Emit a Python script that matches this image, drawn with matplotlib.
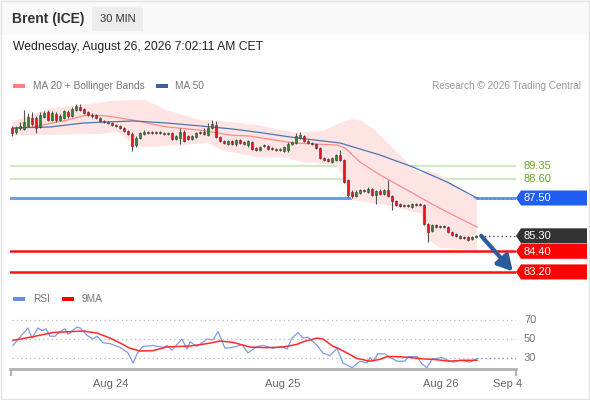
import numpy as np
import matplotlib
matplotlib.use("Agg")
import matplotlib.pyplot as plt
from matplotlib.patches import Polygon, Rectangle

plt.rcParams['font.family'] = ['Liberation Sans', 'DejaVu Sans']

# 30 min candles, oldest first
opens = [91.57, 91.34, 91.57, 91.51, 91.68, 92.15, 92.15, 91.62, 92.21, 92.50,
         92.03, 92.38, 92.03, 92.15, 92.50, 92.27, 92.62, 92.79, 92.68, 92.50,
         92.33, 92.33, 92.15, 91.97, 91.92, 91.86, 91.74, 91.68, 91.57, 91.39,
         91.22, 90.58, 90.99, 91.22, 91.34, 91.34, 91.28, 91.34, 91.28, 91.22,
         91.28, 90.93, 90.99, 91.34, 91.10, 90.93, 91.05, 91.28, 91.34, 91.16,
         91.57, 91.74, 91.05, 90.82, 90.64, 90.82, 90.64, 90.87, 90.64, 90.58,
         90.76, 90.41, 90.29, 90.52, 90.52, 90.41, 90.35, 90.29, 90.23, 90.29,
         90.64, 90.70, 90.99, 91.10, 90.82, 90.70, 90.64, 90.41, 89.83, 89.77,
         89.60, 89.71, 90.00, 89.71, 88.55, 87.85, 87.62, 87.79, 87.97, 87.85,
         88.03, 87.67, 87.91, 87.74, 87.97, 87.62, 87.33, 87.15, 87.03, 87.09,
         86.97, 87.15, 87.15, 87.09, 85.99, 85.58, 85.93, 85.81, 85.87, 85.81,
         85.52, 85.41, 85.29, 85.23, 85.23, 85.12, 85.23]
closes = [91.28, 91.57, 91.68, 91.92, 92.21, 91.80, 91.57, 92.33, 92.44, 92.03,
          92.44, 92.03, 92.27, 92.56, 92.27, 92.68, 92.85, 92.62, 92.44, 92.33,
          92.27, 92.15, 91.97, 91.92, 91.86, 91.74, 91.68, 91.57, 91.39, 91.22,
          90.52, 90.99, 91.28, 91.34, 91.28, 91.28, 91.34, 91.28, 91.22, 91.28,
          90.93, 91.10, 91.34, 90.82, 90.93, 91.10, 91.28, 91.34, 91.22, 91.57,
          91.80, 91.05, 90.82, 90.70, 90.82, 90.64, 90.87, 90.70, 90.76, 90.82,
          90.35, 90.29, 90.47, 90.58, 90.35, 90.35, 90.29, 90.35, 90.47, 90.64,
          90.76, 91.10, 91.16, 90.82, 90.70, 90.64, 90.41, 89.83, 89.71, 89.65,
          89.83, 90.00, 89.71, 88.43, 87.67, 87.62, 87.85, 87.97, 87.91, 88.03,
          87.67, 87.91, 87.74, 87.97, 87.62, 87.33, 87.09, 87.03, 87.09, 87.03,
          87.15, 87.09, 87.09, 85.99, 85.52, 85.93, 85.81, 85.87, 85.81, 85.52,
          85.35, 85.29, 85.17, 85.17, 85.06, 85.23, 85.30]
highs = [91.68, 91.68, 91.92, 92.62, 92.44, 92.50, 92.27, 92.50, 92.56, 92.62,
         92.56, 92.50, 92.38, 92.62, 92.62, 92.79, 92.97, 92.97, 92.73, 92.56,
         92.44, 92.38, 92.21, 92.03, 91.97, 91.92, 91.80, 91.74, 91.62, 91.45,
         91.34, 91.10, 91.34, 91.45, 91.39, 91.39, 91.39, 91.39, 91.34, 91.34,
         91.34, 91.16, 91.57, 91.45, 91.16, 91.16, 91.34, 91.39, 91.57, 91.86,
         92.03, 91.97, 91.10, 90.87, 90.87, 90.87, 90.93, 90.93, 90.82, 90.87,
         90.82, 90.47, 90.52, 90.64, 90.58, 90.47, 90.41, 90.41, 90.52, 90.76,
         90.82, 91.28, 91.34, 91.16, 90.87, 90.76, 90.70, 90.47, 89.88, 89.83,
         89.88, 90.06, 90.29, 89.77, 88.60, 87.97, 87.97, 88.03, 88.03, 88.14,
         88.09, 87.97, 88.03, 88.03, 88.55, 87.67, 87.38, 87.21, 87.15, 87.15,
         87.21, 87.21, 87.21, 87.15, 86.05, 85.99, 85.99, 85.93, 85.93, 85.87,
         85.58, 85.46, 85.35, 85.29, 85.29, 85.29, 85.35]
lows = [91.10, 91.22, 91.45, 91.45, 91.62, 91.68, 91.28, 91.57, 92.15, 91.97,
        91.97, 91.92, 91.97, 92.09, 92.15, 92.21, 92.56, 92.56, 92.38, 92.27,
        92.15, 92.09, 91.92, 91.86, 91.80, 91.68, 91.62, 91.51, 91.34, 91.16,
        90.23, 90.47, 90.93, 91.16, 91.22, 91.22, 91.22, 91.22, 91.16, 91.16,
        90.87, 90.87, 90.64, 90.76, 90.87, 90.87, 90.99, 91.22, 91.16, 91.10,
        91.51, 90.99, 90.76, 90.64, 90.58, 90.58, 90.52, 90.64, 90.58, 90.47,
        90.29, 90.23, 90.23, 90.47, 90.29, 90.29, 90.23, 90.23, 90.17, 90.17,
        90.58, 90.64, 90.93, 90.76, 90.64, 90.58, 90.35, 89.77, 89.65, 89.59,
        89.54, 89.65, 89.65, 88.37, 87.56, 87.50, 87.56, 87.73, 87.85, 87.79,
        87.62, 87.15, 87.67, 87.68, 87.56, 86.80, 87.03, 86.97, 86.97, 86.97,
        86.91, 87.03, 87.03, 85.93, 84.94, 85.52, 85.75, 85.75, 85.75, 85.46,
        85.29, 85.23, 85.12, 85.12, 85.00, 85.06, 85.17]

# moving averages and Bollinger bands (candle index, price)
ma20_x = [0.25, 5.25, 13.75, 18.75, 23.75, 30.25, 38.75, 47, 54.5, 59.5, 70.25,
          81.25, 83.25, 87, 92, 98.75, 104.5, 108.75, 112.75, 116.25]
ma20 = [91.57, 91.63, 92.03, 92.33, 92.27, 92.03, 91.63, 91.45, 91.16, 91.10,
        90.70, 90.58, 90.41, 89.59, 88.84, 87.97, 87.21, 86.69, 86.22, 85.81]
ma50_x = [0.25, 9.5, 17.75, 23.75, 30.25, 38.75, 47, 55.25, 62.75, 71.25, 82,
          92, 100.25, 108.75, 116.25]
ma50 = [91.57, 91.63, 91.86, 91.92, 91.98, 91.86, 91.69, 91.51, 91.28, 90.99,
        90.70, 90.00, 89.30, 88.43, 87.50]
bb_up_x = [0, 4.5, 9.5, 17.75, 24.5, 29.5, 33.25, 38.75, 47, 55.25, 62.75, 67,
           72, 78.25, 82, 85, 87.5, 90.75, 94.5, 98.25, 100.75, 102, 104, 107,
           112, 116.25]
bb_up = [91.92, 92.33, 92.73, 92.91, 93.14, 93.20, 93.20, 92.62, 92.03, 91.92,
         91.69, 91.45, 91.28, 91.45, 91.86, 92.09, 91.98, 91.45, 90.58, 89.71,
         89.13, 88.90, 89.13, 88.84, 88.08, 87.38]
bb_lo_x = [0, 5.25, 22, 26.25, 31.25, 34.5, 42.75, 49, 52.5, 60.75, 68.75,
           72.75, 81.25, 82.75, 85, 93.75, 98.75, 102, 104, 107, 116.25]
bb_lo = [91.16, 91.16, 91.22, 91.34, 90.47, 90.47, 90.58, 90.70, 90.29, 89.88,
         89.83, 89.59, 89.42, 88.72, 87.38, 87.09, 86.80, 86.63, 85.06, 84.59,
         84.48]

# RSI panel
rsi_x = [0.25, 2, 4, 5, 6.5, 7.5, 8.5, 9.5, 10.75, 12, 13.25, 14, 16.25, 17,
         18.75, 20.25, 21.25, 22.75, 24.5, 27, 29, 30.25, 31.25, 32.75, 35.25,
         37.75, 38.75, 40, 42.5, 43.75, 44.5, 46.25, 48.75, 50.25, 51.5, 53.25,
         55.25, 57.5, 59, 61.25, 62.75, 65.25, 67.5, 68.75, 70, 71.5, 72.75, 74,
         76.25, 77.75, 79.5, 81.25, 82.75, 85, 87, 88.75, 89.5, 90.25, 91.5,
         93.25, 94.5, 96.25, 98.25, 99, 101.25, 102.5, 103.75, 105, 107.5, 109,
         110.25, 112, 114.5, 116.25]
rsi = [43, 52, 62, 51, 62, 59, 61, 53, 53, 58, 61, 55, 63, 62, 54, 50, 53, 46,
       45, 41, 35, 24, 34, 42, 43, 41, 43, 38, 50, 39, 47, 42, 50, 49, 58, 40,
       41, 44, 35, 42, 43, 40, 42, 39, 51, 57, 51, 52, 43, 35, 32, 40, 24, 19,
       26, 24, 30, 26, 34, 34, 30, 26, 26, 31, 31, 23, 19, 28, 30, 27, 25, 27,
       25, 29]
ma9_x = [0.25, 5.25, 10.25, 17.75, 21.25, 24.5, 27, 29.5, 32, 35.25, 38.75,
         44.5, 48.75, 52, 55.25, 59.5, 63.75, 67.75, 71.25, 72.75, 76.25, 77.75,
         80.25, 81.5, 83.25, 85, 86.25, 89.5, 92, 93.75, 96.25, 99.5, 102.75,
         105.25, 109.5, 112.75, 116.25]
ma9 = [48.5, 52.5, 57, 58.6, 56.5, 51, 45.7, 40, 37, 37.4, 41.4, 42.4, 45,
       47.8, 46.4, 41.3, 40.6, 41.3, 44.2, 47, 51, 50, 42, 40, 36, 32, 29, 26,
       28, 31, 31, 30, 28.5, 28, 26, 27, 27]
rsi_levels = [70, 50, 30]

day_pos = [24.75, 67.75, 107.25, 124]
day_labels = ['Aug 24', 'Aug 25', 'Aug 26', 'Sep 4']

resist = [89.35, 88.60]
pivot = 87.50
last_price = 85.30
supports = [84.40, 83.20]

W, H = 590, 400
fig = plt.figure(figsize=(W / 100, H / 100), dpi=100)
fig.patch.set_facecolor('white')


def box(x0, y0, x1, y1):  # pixel box, top-left origin
    return [x0 / W, 1 - y1 / H, (x1 - x0) / W, (y1 - y0) / H]


XMAX = 126
ax = fig.add_axes(box(10, 95, 516, 285))
ax.set_xlim(-0.5, XMAX)
ax.set_ylim(82.44, 93.49)
ax.axis('off')

band = list(zip(bb_up_x, bb_up)) + list(zip(bb_lo_x[::-1], bb_lo[::-1]))
ax.add_patch(Polygon(band, closed=True, facecolor='#ffe4e4', edgecolor='none', zorder=1))

for r in resist:
    ax.axhline(r, color='#d3e8c4', lw=1.6, zorder=0.5)
ax.axhline(pivot, color='#6d9bf3', lw=2.2, zorder=0.6)
for s in supports:
    ax.axhline(s, color='#ff1010', lw=1.8, zorder=0.6)

ax.plot(ma20_x, ma20, color='#ff8c8c', lw=0.9, zorder=2)
ax.plot(ma50_x, ma50, color='#4f73b0', lw=0.9, zorder=2)
ax.plot([ma50_x[-1], XMAX], [ma50[-1], ma50[-1]], color='#4f73b0', lw=1, ls=(0, (1, 2)), zorder=2)

idx = np.arange(len(closes))
o = np.array(opens)
c = np.array(closes)
up = c >= o
ax.vlines(idx, lows, highs, color='#555555', lw=0.8, zorder=3)
ax.bar(idx, np.maximum(np.abs(c - o), 0.05), bottom=np.minimum(o, c), width=0.7,
       color=np.where(up, '#2f8a35', '#e8141c'), edgecolor='#3a3a3a', linewidth=0.4, zorder=4)

n = len(closes)
ax.plot([n - 1, XMAX], [last_price, last_price], color='#555555', lw=1, ls=(0, (1, 2)), zorder=2)
ax.annotate('', xy=(XMAX - 0.8, supports[-1] + 0.03), xytext=(n + 0.3, closes[-1]),
            arrowprops=dict(arrowstyle='-|>,head_length=0.9,head_width=0.5',
                            color='#2d5a9b', lw=3, shrinkA=0, shrinkB=0), zorder=6)

# RSI
rax = fig.add_axes(box(10, 310, 516, 369))
rax.set_facecolor('none')
rax.set_xlim(-0.5, XMAX)
rax.set_ylim(17.57, 81.35)
for lv in rsi_levels:
    rax.axhline(lv, xmin=0.004, color='#b8b8b8', lw=0.9, ls=(0, (1, 2.5)))
rax.plot(rsi_x, rsi, color='#7d9ce8', lw=0.9)
rax.plot([rsi_x[-1], XMAX], [rsi[-1], rsi[-1]], color='#7d9ce8', lw=1, ls=(0, (1, 2)))
rax.plot(ma9_x, ma9, color='#ff2a2a', lw=1.1)
for s in ['top', 'left', 'right']:
    rax.spines[s].set_visible(False)
rax.spines['bottom'].set_color('#b3b3b3')
rax.spines['bottom'].set_linewidth(2)
rax.set_yticks([])
rax.set_xticks(day_pos, day_labels)
rax.tick_params(axis='x', length=0, pad=7, labelsize=8, labelcolor='#666666')
rax.set_xticks([-0.25, XMAX], minor=True)
rax.tick_params(axis='x', which='minor', length=5, width=1.6, color='#b3b3b3')

# overlay in pixel coordinates
ov = fig.add_axes([0, 0, 1, 1], zorder=10)
ov.set_xlim(0, W)
ov.set_ylim(H, 0)
ov.axis('off')


def ypix(a, v):
    return H - a.transData.transform((0, v))[1]


ov.add_patch(Rectangle((0, 0), W, 35, facecolor='#f9f9f9', edgecolor='none'))
ov.add_patch(Rectangle((0.5, 0.5), W - 1.5, H - 1.5, facecolor='none', edgecolor='#e2e2e2', lw=1))
ov.text(12, 19, 'Brent (ICE)', fontsize=10, fontweight='bold', color='#333333', va='center')
ov.add_patch(Rectangle((92, 7), 51, 24, facecolor='#ececec', edgecolor='none'))
ov.text(117.5, 19.5, '30 MIN', fontsize=8, color='#333333', va='center', ha='center')
ov.text(13, 47, 'Wednesday, August 26, 2026 7:02:11 AM CET', fontsize=8.7, color='#222222', va='center')

ov.add_patch(Rectangle((13, 84), 12, 4, facecolor='#ff7f7f', edgecolor='none'))
ov.text(33, 86, 'MA 20 + Bollinger Bands', fontsize=7.3, color='#777777', va='center')
ov.add_patch(Rectangle((156, 84), 12, 4, facecolor='#3c5f9e', edgecolor='none'))
ov.text(175, 86, 'MA 50', fontsize=7.3, color='#777777', va='center')
ov.text(581, 86, 'Research \u00a9 2026 Trading Central', fontsize=7.2, color='#999999', va='center', ha='right')

ov.add_patch(Rectangle((13, 297), 12, 4, facecolor='#6b8de6', edgecolor='none'))
ov.text(33, 299, 'RSI', fontsize=7.3, color='#777777', va='center')
ov.add_patch(Rectangle((62, 297), 12, 4, facecolor='#ff0000', edgecolor='none'))
ov.text(82, 299, '9MA', fontsize=7.3, color='#777777', va='center')

for r in resist:
    ov.text(524, ypix(ax, r), f'{r:.2f}', fontsize=8, color='#6aa52f', va='center')

tags = [(pivot, '#1f5ef0'), (last_price, '#333333'), (supports[0], '#ff0000'), (supports[1], '#ff0000')]
for v, col in tags:
    y = ypix(ax, v)
    ov.add_patch(Polygon([(516, y), (521, y - 7.5), (587, y - 7.5), (587, y + 7.5), (521, y + 7.5)],
                         closed=True, facecolor=col, edgecolor='none'))
    ov.text(524, y + 0.5, f'{v:.2f}', fontsize=8, color='white', va='center')

for lv in rsi_levels:
    ov.text(524, ypix(rax, lv), str(lv), fontsize=8, color='#777777', va='center')

fig.savefig('out.png', dpi=100)
